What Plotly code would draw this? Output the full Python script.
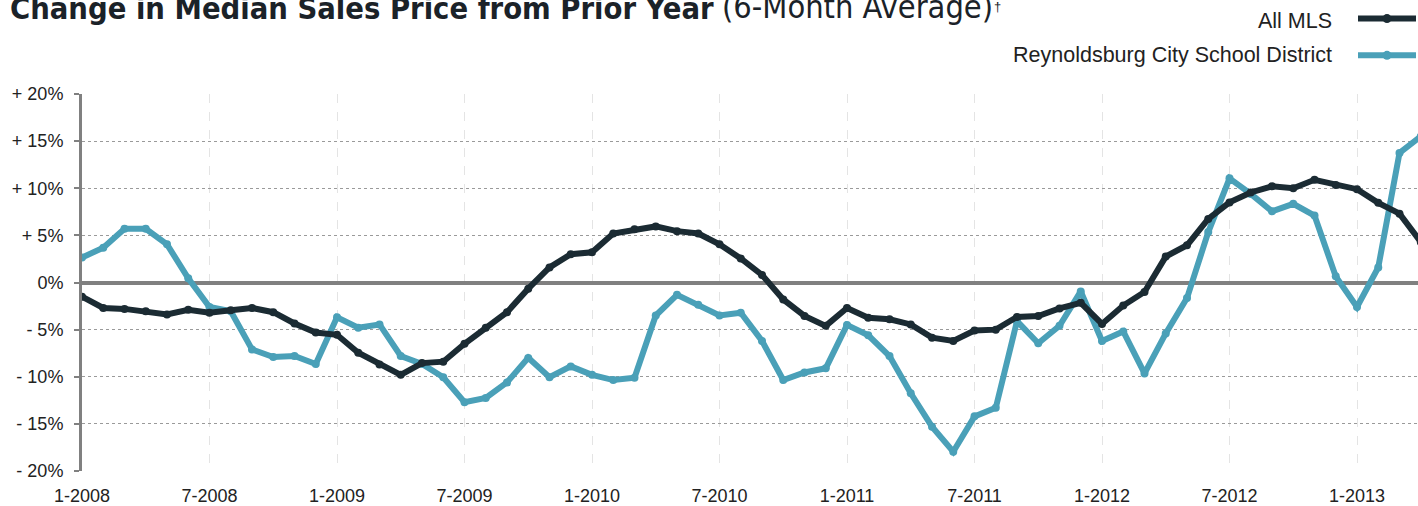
import plotly.graph_objects as go

# Month labels 1-2008 .. 4-2013
months = [f"{m}-{y}" for y in range(2008, 2014) for m in range(1, 13)][:64]

all_mls = [-1.5, -2.7, -2.8, -3.05, -3.4, -2.9, -3.2, -2.95, -2.7, -3.15,
           -4.35, -5.3, -5.55, -7.45, -8.7, -9.8, -8.55, -8.4, -6.5, -4.8,
           -3.15, -0.65, 1.6, 3.0, 3.2, 5.2, 5.65, 5.95, 5.45, 5.2,
           4.05, 2.55, 0.8, -1.8, -3.55, -4.6, -2.7, -3.75, -3.9, -4.45,
           -5.85, -6.2, -5.1, -5.0, -3.65, -3.55, -2.75, -2.15, -4.4, -2.45,
           -1.0, 2.75, 3.95, 6.75, 8.5, 9.55, 10.2, 10.0, 10.9, 10.35,
           9.9, 8.45, 7.3, 4.3]

reynoldsburg = [2.65, 3.7, 5.7, 5.7, 4.05, 0.45, -2.6, -3.05, -7.1, -7.9,
                -7.8, -8.65, -3.7, -4.8, -4.45, -7.8, -8.65, -10.05, -12.7, -12.25,
                -10.6, -8.0, -10.05, -8.9, -9.8, -10.35, -10.1, -3.5, -1.3, -2.35,
                -3.5, -3.2, -6.2, -10.35, -9.55, -9.1, -4.5, -5.6, -7.8, -11.75,
                -15.3, -17.95, -14.2, -13.3, -4.1, -6.45, -4.6, -0.95, -6.2, -5.2,
                -9.65, -5.4, -1.65, 5.35, 11.05, 9.4, 7.55, 8.35, 7.1, 0.65,
                -2.6, 1.6, 13.75, 15.5]

x_ticks = ["1-2008", "7-2008", "1-2009", "7-2009", "1-2010", "7-2010",
           "1-2011", "7-2011", "1-2012", "7-2012", "1-2013"]
y_ticks = [-20, -15, -10, -5, 0, 5, 10, 15, 20]
y_tick_text = ["- 20%", "- 15%", "- 10%", "- 5%", "0%", "+ 5%", "+ 10%", "+ 15%", "+ 20%"]

DARK = "#1b2b33"
TEAL = "#4aa0b8"
FONT = "Liberation Sans, Arial, Helvetica, sans-serif"
NARROW = "Liberation Sans Narrow, DejaVu Sans Condensed, Liberation Sans, Arial"

W, H = 1418, 506
L, R, T, B = 82, 0, 94, 32
PW, PH = W - L - R, H - T - B


def px_x(px):
    return (px - L) / PW


def px_y(py):
    return (H - B - py) / PH


fig = go.Figure()
fig.add_trace(go.Scatter(x=months, y=reynoldsburg, mode="lines+markers",
                         line=dict(color=TEAL, width=6), marker=dict(color=TEAL, size=8),
                         name="Reynoldsburg City School District", showlegend=False))
fig.add_trace(go.Scatter(x=months, y=all_mls, mode="lines+markers",
                         line=dict(color=DARK, width=6), marker=dict(color=DARK, size=8),
                         name="All MLS", showlegend=False))

fig.update_layout(
    width=W, height=H,
    margin=dict(l=L, r=R, t=T, b=B, pad=0),
    paper_bgcolor="white", plot_bgcolor="white",
    font=dict(family=FONT, size=18, color="#222222"),
    showlegend=False,
)
fig.update_xaxes(
    type="category", categoryorder="array", categoryarray=months,
    range=[0, (W - L - R) / 21.25],
    tickmode="array", tickvals=x_ticks, ticktext=x_ticks,
    showgrid=True, gridcolor="#e4e4e4", gridwidth=1, griddash="dash",
    showline=False, ticks="", ticklabelstandoff=12,
    tickfont=dict(size=18, color="#222222"), zeroline=False,
)
fig.update_yaxes(
    range=[-20, 20], tickmode="array", tickvals=y_ticks, ticktext=y_tick_text,
    showgrid=True, gridcolor="#9a9a9a", gridwidth=1, griddash="dot",
    zeroline=True, zerolinecolor="#808080", zerolinewidth=4,
    showline=True, linecolor="#808080", linewidth=3,
    ticks="outside", ticklen=5, tickcolor="#808080", tickwidth=2,
    ticklabelstandoff=7,
    tickfont=dict(size=18, color="#222222"),
)

annotations = [
    dict(text="<b>Change in Median Sales Price from Prior Year</b>",
         xref="paper", yref="paper", x=px_x(8), y=px_y(27), xanchor="left", yanchor="bottom",
         showarrow=False, font=dict(family=NARROW, size=30.6, color="#1b2228")),
    dict(text="(6-Month Average)",
         xref="paper", yref="paper", x=px_x(720), y=px_y(27), xanchor="left", yanchor="bottom",
         showarrow=False, font=dict(family=NARROW, size=32.3, color="#1b2228")),
    dict(text="†", xref="paper", yref="paper", x=px_x(992), y=px_y(6),
         xanchor="left", yanchor="middle", showarrow=False,
         font=dict(family=FONT, size=13, color="#1b2228")),
    dict(text="All MLS", xref="paper", yref="paper", x=px_x(1334), y=px_y(20),
         xanchor="right", yanchor="middle", showarrow=False,
         font=dict(family=FONT, size=21.5, color="#222222")),
    dict(text="Reynoldsburg City School District", xref="paper", yref="paper",
         x=px_x(1334), y=px_y(55), xanchor="right", yanchor="middle", showarrow=False,
         font=dict(family=FONT, size=21.5, color="#222222")),
]
fig.update_layout(annotations=annotations)

shapes = []
for yy, col in [(18, DARK), (55, TEAL)]:
    shapes.append(dict(type="line", xref="paper", yref="paper",
                       x0=px_x(1358), x1=px_x(1416), y0=px_y(yy), y1=px_y(yy),
                       line=dict(color=col, width=6)))
    shapes.append(dict(type="circle", xref="paper", yref="paper",
                       xsizemode="pixel", ysizemode="pixel",
                       xanchor=px_x(1387), yanchor=px_y(yy),
                       x0=-4.5, x1=4.5, y0=-4.5, y1=4.5,
                       fillcolor=col, line=dict(width=0)))
fig.update_layout(shapes=shapes)

fig.write_html(
    "out.html",
    config={"displayModeBar": False},
    post_script="document.body.style.margin='0';document.body.style.overflow='hidden';",
)
